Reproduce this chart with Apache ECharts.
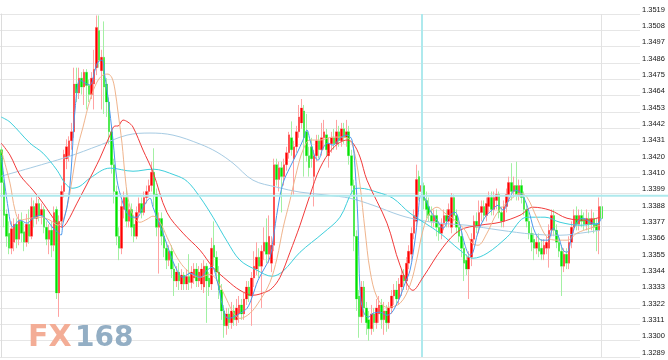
<!DOCTYPE html>
<html>
<head>
<meta charset="utf-8">
<script src="https://cdn.jsdelivr.net/npm/echarts/dist/echarts.min.js"></script>
<style>html,body{margin:0;padding:0;background:#fff;}#c{width:668px;height:360px;}</style>
</head>
<body>
<div id="c"></div>
<script>
// ---- y axis tick labels ----
const yLabels = ['1.3289','1.3300','1.3311','1.3322','1.3333','1.3344','1.3355','1.3366','1.3377','1.3388','1.3399','1.3410','1.3420','1.3431','1.3442','1.3453','1.3464','1.3475','1.3486','1.3497','1.3508','1.3519'];
const yMin = 1.32891;
const yStep = yMin / 1214;
const yMax = yMin + 21 * yStep;

// ---- candles: [open, close, low, high] ----
const ohlc = [
[1.3428,1.3406,1.3396,1.3430],[1.3406,1.3384,1.3376,1.3408],[1.3385,1.3370,1.3363,1.3388],[1.3372,1.3362,1.3358,1.3380],
[1.3362,1.3375,1.3358,1.3380],[1.3366,1.3378,1.3360,1.3382],[1.3378,1.3368,1.3362,1.3382],[1.3368,1.3380,1.3364,1.3385],
[1.3380,1.3372,1.3366,1.3386],[1.3373,1.3366,1.3360,1.3379],[1.3366,1.3378,1.3363,1.3385],[1.3378,1.3370,1.3365,1.3388],
[1.3370,1.3390,1.3368,1.3396],[1.3390,1.3382,1.3376,1.3394],[1.3382,1.3392,1.3378,1.3397],[1.3392,1.3384,1.3380,1.3395],
[1.3384,1.3388,1.3378,1.3392],[1.3388,1.3376,1.3372,1.3390],[1.3376,1.3368,1.3364,1.3380],[1.3368,1.3374,1.3358,1.3378],
[1.3374,1.3364,1.3356,1.3380],[1.3364,1.3386,1.3360,1.3390],[1.3388,1.3332,1.3328,1.3390],[1.3332,1.3380,1.3316,1.3384],
[1.3380,1.3400,1.3376,1.3404],[1.3400,1.3425,1.3396,1.3428],[1.3422,1.3430,1.3415,1.3435],[1.3424,1.3434,1.3420,1.3437],
[1.3434,1.3440,1.3428,1.3446],[1.3440,1.3472,1.3436,1.3483],[1.3472,1.3466,1.3460,1.3483],[1.3466,1.3476,1.3462,1.3483],
[1.3476,1.3470,1.3465,1.3480],[1.3470,1.3480,1.3458,1.3482],[1.3480,1.3471,1.3455,1.3482],[1.3471,1.3465,1.3460,1.3475],
[1.3465,1.3476,1.3462,1.3480],[1.3472,1.3482,1.3455,1.3495],[1.3483,1.3510,1.3478,1.3518],[1.3508,1.3488,1.3483,1.3518],
[1.3481,1.3490,1.3455,1.3495],[1.3490,1.3470,1.3452,1.3514],[1.3472,1.3460,1.3450,1.3476],[1.3460,1.3440,1.3432,1.3463],
[1.3440,1.3418,1.3412,1.3444],[1.3418,1.3400,1.3392,1.3422],[1.3400,1.3370,1.3364,1.3404],[1.3370,1.3362,1.3354,1.3376],
[1.3362,1.3390,1.3358,1.3394],[1.3388,1.3396,1.3382,1.3400],[1.3396,1.3380,1.3376,1.3402],[1.3380,1.3388,1.3376,1.3392],
[1.3388,1.3376,1.3370,1.3392],[1.3378,1.3370,1.3366,1.3384],[1.3370,1.3386,1.3368,1.3390],[1.3386,1.3392,1.3382,1.3396],
[1.3392,1.3386,1.3382,1.3396],[1.3386,1.3396,1.3384,1.3400],[1.3396,1.3400,1.3392,1.3404],[1.3400,1.3404,1.3396,1.3408],
[1.3404,1.3413,1.3400,1.3420],[1.3413,1.3398,1.3390,1.3429],[1.3398,1.3376,1.3370,1.3402],[1.3376,1.3382,1.3345,1.3386],
[1.3382,1.3370,1.3364,1.3386],[1.3370,1.3362,1.3356,1.3374],[1.3362,1.3354,1.3348,1.3366],[1.3354,1.3360,1.3350,1.3364],
[1.3360,1.3348,1.3342,1.3364],[1.3348,1.3340,1.3330,1.3352],[1.3340,1.3346,1.3336,1.3350],[1.3346,1.3340,1.3334,1.3352],
[1.3338,1.3344,1.3334,1.3348],[1.3344,1.3338,1.3334,1.3346],[1.3338,1.3343,1.3334,1.3348],[1.3343,1.3339,1.3334,1.3358],
[1.3339,1.3346,1.3335,1.3350],[1.3342,1.3348,1.3338,1.3352],[1.3348,1.3340,1.3336,1.3352],[1.3340,1.3346,1.3336,1.3350],
[1.3338,1.3348,1.3334,1.3352],[1.3336,1.3350,1.3332,1.3354],[1.3350,1.3340,1.3312,1.3352],[1.3342,1.3336,1.3330,1.3346],
[1.3338,1.3362,1.3334,1.3369],[1.3364,1.3356,1.3350,1.3380],[1.3356,1.3346,1.3340,1.3360],[1.3346,1.3334,1.3328,1.3350],
[1.3334,1.3320,1.3314,1.3338],[1.3320,1.3310,1.3302,1.3324],[1.3310,1.3318,1.3304,1.3322],[1.3318,1.3312,1.3308,1.3322],
[1.3312,1.3320,1.3308,1.3326],[1.3320,1.3314,1.3310,1.3324],[1.3314,1.3322,1.3310,1.3328],[1.3318,1.3324,1.3312,1.3330],
[1.3324,1.3318,1.3314,1.3328],[1.3318,1.3328,1.3314,1.3332],[1.3328,1.3336,1.3324,1.3340],[1.3336,1.3330,1.3326,1.3340],
[1.3330,1.3342,1.3310,1.3346],[1.3342,1.3350,1.3336,1.3360],[1.3348,1.3356,1.3344,1.3366],[1.3356,1.3350,1.3342,1.3362],
[1.3350,1.3360,1.3322,1.3364],[1.3360,1.3366,1.3354,1.3376],[1.3366,1.3358,1.3352,1.3382],[1.3358,1.3370,1.3352,1.3384],
[1.3352,1.3364,1.3346,1.3370],[1.3364,1.3418,1.3360,1.3422],[1.3418,1.3408,1.3404,1.3422],[1.3408,1.3416,1.3400,1.3420],
[1.3416,1.3410,1.3386,1.3420],[1.3410,1.3418,1.3404,1.3422],[1.3418,1.3426,1.3414,1.3430],[1.3426,1.3438,1.3422,1.3440],
[1.3436,1.3428,1.3424,1.3447],[1.3422,1.3430,1.3398,1.3434],[1.3430,1.3440,1.3426,1.3444],[1.3440,1.3450,1.3436,1.3458],
[1.3446,1.3456,1.3442,1.3462],[1.3454,1.3436,1.3410,1.3458],[1.3440,1.3424,1.3420,1.3452],[1.3424,1.3416,1.3410,1.3430],
[1.3430,1.3422,1.3416,1.3436],[1.3410,1.3424,1.3390,1.3428],[1.3424,1.3434,1.3420,1.3438],[1.3434,1.3428,1.3422,1.3438],
[1.3428,1.3436,1.3424,1.3446],[1.3436,1.3440,1.3428,1.3448],[1.3438,1.3428,1.3424,1.3442],[1.3424,1.3432,1.3416,1.3436],
[1.3432,1.3436,1.3426,1.3440],[1.3436,1.3432,1.3428,1.3442],[1.3432,1.3440,1.3428,1.3448],[1.3440,1.3434,1.3430,1.3444],
[1.3434,1.3442,1.3430,1.3446],[1.3442,1.3436,1.3432,1.3446],[1.3436,1.3440,1.3430,1.3448],[1.3440,1.3424,1.3418,1.3444],
[1.3424,1.3404,1.3398,1.3428],[1.3404,1.3370,1.3360,1.3408],[1.3370,1.3328,1.3320,1.3374],[1.3330,1.3316,1.3302,1.3334],
[1.3316,1.3336,1.3312,1.3340],[1.3336,1.3322,1.3316,1.3340],[1.3322,1.3312,1.3304,1.3326],[1.3314,1.3308,1.3300,1.3320],
[1.3308,1.3318,1.3304,1.3324],[1.3318,1.3312,1.3306,1.3322],[1.3312,1.3322,1.3308,1.3328],[1.3318,1.3324,1.3312,1.3330],
[1.3324,1.3314,1.3308,1.3328],[1.3314,1.3320,1.3304,1.3326],[1.3320,1.3312,1.3306,1.3324],[1.3312,1.3322,1.3308,1.3326],
[1.3322,1.3330,1.3318,1.3334],[1.3330,1.3334,1.3324,1.3338],[1.3334,1.3328,1.3324,1.3340],[1.3328,1.3338,1.3324,1.3342],
[1.3336,1.3344,1.3330,1.3348],[1.3344,1.3340,1.3334,1.3348],[1.3340,1.3352,1.3334,1.3356],[1.3352,1.3360,1.3348,1.3364],
[1.3358,1.3372,1.3354,1.3376],[1.3372,1.3384,1.3368,1.3388],[1.3380,1.3408,1.3376,1.3418],[1.3410,1.3400,1.3394,1.3414],
[1.3400,1.3404,1.3396,1.3408],[1.3404,1.3394,1.3388,1.3406],[1.3394,1.3388,1.3382,1.3400],[1.3390,1.3384,1.3380,1.3396],
[1.3384,1.3380,1.3376,1.3390],[1.3380,1.3384,1.3376,1.3388],[1.3384,1.3376,1.3370,1.3388],[1.3376,1.3372,1.3367,1.3380],
[1.3372,1.3378,1.3368,1.3382],[1.3378,1.3384,1.3374,1.3388],[1.3384,1.3380,1.3376,1.3388],[1.3380,1.3388,1.3376,1.3392],
[1.3376,1.3396,1.3372,1.3399],[1.3396,1.3384,1.3380,1.3398],[1.3384,1.3376,1.3372,1.3388],[1.3376,1.3370,1.3366,1.3380],
[1.3370,1.3362,1.3356,1.3374],[1.3362,1.3352,1.3340,1.3366],[1.3354,1.3348,1.3344,1.3358],[1.3348,1.3356,1.3328,1.3360],
[1.3356,1.3368,1.3350,1.3372],[1.3368,1.3380,1.3364,1.3384],[1.3380,1.3376,1.3372,1.3386],[1.3376,1.3386,1.3372,1.3394],
[1.3386,1.3390,1.3380,1.3394],[1.3390,1.3384,1.3380,1.3394],[1.3384,1.3392,1.3380,1.3396],[1.3390,1.3396,1.3386,1.3400],
[1.3396,1.3388,1.3384,1.3400],[1.3388,1.3396,1.3384,1.3400],[1.3394,1.3398,1.3388,1.3402],[1.3398,1.3386,1.3382,1.3400],
[1.3386,1.3380,1.3376,1.3390],[1.3380,1.3390,1.3376,1.3394],[1.3390,1.3398,1.3386,1.3402],[1.3398,1.3406,1.3394,1.3410],
[1.3406,1.3400,1.3394,1.3419],[1.3400,1.3404,1.3396,1.3410],[1.3404,1.3398,1.3394,1.3420],[1.3398,1.3404,1.3394,1.3408],
[1.3404,1.3396,1.3392,1.3408],[1.3396,1.3388,1.3384,1.3400],[1.3388,1.3380,1.3376,1.3392],[1.3380,1.3372,1.3368,1.3386],
[1.3372,1.3366,1.3360,1.3376],[1.3368,1.3362,1.3354,1.3372],[1.3362,1.3366,1.3358,1.3370],[1.3366,1.3360,1.3356,1.3372],
[1.3362,1.3358,1.3354,1.3368],[1.3358,1.3364,1.3354,1.3368],[1.3362,1.3366,1.3358,1.3370],[1.3362,1.3374,1.3349,1.3378],
[1.3374,1.3384,1.3370,1.3388],[1.3384,1.3374,1.3370,1.3388],[1.3374,1.3366,1.3362,1.3378],[1.3366,1.3360,1.3356,1.3370],
[1.3360,1.3350,1.3330,1.3364],[1.3350,1.3358,1.3346,1.3362],[1.3358,1.3352,1.3348,1.3362],[1.3352,1.3366,1.3348,1.3370],
[1.3366,1.3376,1.3362,1.3380],[1.3376,1.3384,1.3372,1.3388],[1.3384,1.3378,1.3374,1.3390],[1.3378,1.3384,1.3374,1.3388],
[1.3384,1.3380,1.3376,1.3388],[1.3382,1.3378,1.3374,1.3386],[1.3378,1.3382,1.3374,1.3388],[1.3382,1.3378,1.3372,1.3386],
[1.3378,1.3382,1.3374,1.3388],[1.3382,1.3376,1.3372,1.3386],[1.3378,1.3374,1.3360,1.3382],[1.3374,1.3390,1.3358,1.3396],
[1.3390,1.3382,1.3378,1.3397]
];

// ---- moving average lines: [candle index, price] ----
const ma5 = [[0,1.34244],[2.7,1.33895],[4.7,1.33761],[7.5,1.33808],[10.3,1.33788],[12.7,1.33821],[15.5,1.33841],[18.3,1.33808],[20.7,1.33754],[22.7,1.33727],[23.9,1.33707],[24.7,1.33788],[26.3,1.33895],[27.5,1.34043],[28.3,1.34231],[29.5,1.34546],[31.5,1.34747],[33.5,1.34727],[35.5,1.34714],[37.5,1.34814],[38.7,1.34868],[40.3,1.34881],[41.5,1.34767],[42.7,1.34633],[44.7,1.34345],[46.3,1.34076],[48.3,1.33942],[50.3,1.33855],[52.3,1.33828],[54.3,1.33828],[56.7,1.33895],[59.5,1.33955],[60.7,1.33895],[62.7,1.33808],[64.7,1.33721],[67.5,1.33586],[70.3,1.33472],[72.7,1.33425],[75.5,1.33452],[79.5,1.33425],[82.3,1.33472],[84.3,1.33492],[86.3,1.33405],[88.7,1.33224],[90.7,1.3315],[92.7,1.33157],[95.5,1.33184],[98.3,1.33217],[100.3,1.33291],[102.7,1.33405],[105.5,1.33492],[107.5,1.33559],[108.7,1.33674],[110.7,1.33895],[112.7,1.34056],[115.5,1.34163],[118.3,1.34257],[120.7,1.34345],[122.3,1.34412],[123.5,1.34345],[125.5,1.34231],[126.7,1.3421],[128.7,1.34291],[130.7,1.34324],[132.7,1.34311],[135.5,1.34358],[138.3,1.34378],[140.3,1.34345],[141.5,1.34163],[142.7,1.33788],[143.5,1.33338],[144.7,1.33204],[146.7,1.33157],[148.7,1.33184],[151.5,1.33191],[154.3,1.33171],[156.3,1.33191],[158.3,1.33251],[159.5,1.33291],[161.5,1.33385],[163.5,1.33472],[165.5,1.33674],[166.7,1.33841],[167.9,1.33976],[169.5,1.33955],[171.5,1.33875],[174.3,1.33808],[176.7,1.33754],[179.5,1.33841],[181.5,1.33861],[183.5,1.33774],[185.5,1.3364],[187.5,1.33573],[188.7,1.33593],[190.7,1.33727],[193.5,1.33828],[196.3,1.33875],[198.7,1.33908],[200.7,1.33875],[203.5,1.33962],[205.5,1.34009],[207.5,1.33996],[209.5,1.33942],[211.5,1.33841],[213.5,1.33727],[216.3,1.33674],[218.7,1.33674],[220.7,1.33754],[222.7,1.33707],[224.7,1.33607],[226.3,1.33593],[228.3,1.33707],[230.3,1.33794],[232.7,1.33821],[235.5,1.33794],[238.3,1.33781],[240,1.33821]];
const ma10 = [[0,1.34278],[3.5,1.34056],[5.5,1.33875],[7.5,1.33808],[11.5,1.33821],[15.5,1.33828],[19.5,1.33808],[22.7,1.33774],[24.3,1.33794],[26.3,1.33895],[28.3,1.34076],[30.3,1.34278],[32.7,1.34432],[35.5,1.34613],[38.3,1.34734],[40.7,1.34781],[42.7,1.34787],[44.3,1.34761],[45.5,1.3468],[46.7,1.34532],[48.3,1.34324],[49.5,1.3411],[50.7,1.33955],[52.7,1.33841],[55.5,1.33794],[58.3,1.33814],[60.7,1.33835],[63.5,1.33794],[66.3,1.33694],[70.3,1.33559],[74.3,1.33472],[79.5,1.33425],[83.5,1.33445],[86.3,1.33405],[90.3,1.33271],[92.7,1.33191],[95.5,1.3315],[99.5,1.33184],[103.5,1.33271],[107.5,1.33392],[110.3,1.33553],[112.7,1.33754],[115.5,1.33942],[118.3,1.34143],[120.7,1.34278],[123.5,1.34345],[127.5,1.34345],[132.7,1.34365],[136.7,1.34365],[139.5,1.34345],[141.5,1.34244],[143.5,1.34043],[145.5,1.33741],[147.5,1.33472],[150.3,1.33291],[154.3,1.33224],[159.5,1.33251],[163.5,1.33372],[166.3,1.33553],[168.7,1.33741],[171.5,1.33861],[174.3,1.33895],[177.5,1.33855],[181.5,1.33808],[185.5,1.33741],[188.3,1.33654],[190.7,1.3364],[194.3,1.33721],[198.3,1.33855],[203.5,1.33942],[207.5,1.33989],[210.3,1.33962],[214.3,1.33821],[218.3,1.33694],[222.3,1.33674],[226.3,1.33674],[230.3,1.33721],[235.5,1.33754],[239.5,1.33774]];
const ma30 = [[0,1.34324],[3.5,1.34244],[7.5,1.3411],[12.7,1.34009],[16.7,1.33922],[22.3,1.33788],[24.3,1.33761],[26.3,1.33794],[30.3,1.33922],[34.3,1.3405],[39.5,1.34224],[43.5,1.34378],[45.5,1.34439],[46.7,1.34439],[48.7,1.34479],[50.7,1.34465],[52.7,1.34432],[56.7,1.34278],[60.7,1.3413],[66.3,1.33859],[72.7,1.33721],[79.5,1.33607],[84.7,1.33492],[90.3,1.33405],[95.5,1.33338],[100.7,1.33305],[105.5,1.33325],[108.3,1.33352],[111.5,1.33425],[115.5,1.33593],[119.5,1.33774],[123.5,1.33976],[127.5,1.34157],[132.7,1.34291],[138.3,1.34345],[140.7,1.34324],[143.5,1.34231],[146.3,1.34076],[154.3,1.33788],[159.5,1.33506],[164.7,1.33338],[168.7,1.33425],[176.7,1.33627],[183.5,1.33741],[191.5,1.33774],[199.5,1.33794],[207.5,1.33841],[212.7,1.33895],[219.5,1.33875],[226.3,1.33821],[234.3,1.33808],[239.5,1.33828]];
const ma60 = [[0,1.34499],[3.5,1.34465],[11.5,1.34324],[16.7,1.34257],[22.3,1.34143],[25.5,1.34056],[28.3,1.34022],[31.5,1.34036],[35.5,1.3409],[43.5,1.34157],[52.7,1.34136],[60.7,1.3415],[69.5,1.3411],[74.3,1.34069],[79.5,1.33962],[84.7,1.33828],[90.3,1.33667],[95.5,1.3354],[102.3,1.33472],[108.3,1.33432],[112.7,1.33466],[119.5,1.33593],[128.7,1.33721],[135.5,1.33828],[140.7,1.34009],[143.5,1.34022],[150.3,1.33996],[156.7,1.33955],[163.5,1.33855],[175.5,1.33721],[183.5,1.33607],[188.7,1.33553],[194.3,1.33586],[202.3,1.33694],[210.3,1.33828],[217.5,1.33828],[223.5,1.33794],[231.5,1.33774],[239.5,1.33788]];
const ma120 = [[0,1.34103],[26.3,1.34231],[39.5,1.34311],[50.3,1.34378],[59.5,1.34392],[68.7,1.34378],[79.5,1.34318],[86.3,1.34264],[92.7,1.3419],[100.7,1.34076],[110.3,1.34029],[119.5,1.33996],[130.3,1.33976],[139.5,1.33955],[148.7,1.33908],[159.5,1.33841],[167.5,1.33808],[175.5,1.33788],[186.3,1.33774],[199.5,1.33741],[212.7,1.33714],[223.5,1.33707],[234.3,1.33727],[239.5,1.33741]];

// crosshair position (price and candle index)
const crossPrice = 1.33971;
const crossIndex = 168;

// category slots (data fills the first ones, the rest is empty room on the right)
const slotCount = 256;
const categories = Array.from({length: slotCount}, (_, i) => String(i));

const chart = echarts.init(document.getElementById('c'), null, {renderer: 'canvas'});
function maSeries(data, color) {
  return {
    type: 'line', xAxisIndex: 1, data: data, showSymbol: false, smooth: 0.35,
    lineStyle: {color: color, width: 1}, itemStyle: {color: color}, z: 6, silent: true
  };
}
const crossColor = '#aee9ed';
chart.setOption({
  animation: false,
  backgroundColor: '#ffffff',
  grid: {left: 0, right: 28, top: 14, bottom: 3, containLabel: false},
  xAxis: [
    {type: 'category', data: categories, show: false, boundaryGap: true},
    {type: 'value', min: -0.5, max: slotCount - 0.5, show: false, splitLine: {show: false}}
  ],
  yAxis: {
    type: 'value', position: 'right', min: yMin, max: yMax, interval: yStep,
    axisLine: {show: true, lineStyle: {color: '#dcdcdc', width: 1}},
    axisTick: {show: false},
    splitLine: {show: true, lineStyle: {color: '#e6e6e6', width: 1}},
    axisLabel: {
      show: true, margin: 2, color: '#151515', fontSize: 7.5,
      fontFamily: '"Liberation Sans", Arial, sans-serif', verticalAlign: 'bottom', lineHeight: 9,
      formatter: function (v) {
        const k = Math.round((v - yMin) / yStep);
        return yLabels[k] !== undefined ? yLabels[k] : '';
      }
    }
  },
  graphic: [
    {type: 'text', left: 28, top: 323, z: 1, silent: true,
     style: {text: 'FX', font: 'bold 30px "DejaVu Sans"', fill: '#f3ad96'}},
    {type: 'text', left: 75, top: 325, z: 1, silent: true,
     style: {text: '168', font: 'bold 28px "DejaVu Sans"', fill: '#93aec4'}}
  ],
  series: [
    {
      type: 'candlestick', data: ohlc, barWidth: 2, z: 2, silent: true,
      itemStyle: {color: '#ffa3a3', color0: '#a3f0a3', borderColor: '#ffa3a3', borderColor0: '#a3f0a3', borderWidth: 1},
      markLine: {
        silent: true, symbol: ['none', 'none'], label: {show: false}, animation: false,
        data: [
          {xAxis: categories[crossIndex], lineStyle: {color: crossColor, width: 2, type: 'solid'}},
          {xAxis: categories[ohlc.length - 1], lineStyle: {color: '#e2e2e2', width: 1, type: 'solid'}}
        ]
      }
    },
    {
      type: 'candlestick', data: ohlc, barWidth: 2, z: 3, silent: true,
      itemStyle: {color: '#ff0000', color0: '#00e400', borderColor: 'rgba(0,0,0,0)', borderColor0: 'rgba(0,0,0,0)', borderWidth: 0}
    },
    maSeries(ma120, '#a6cbe3'),
    maSeries(ma60, '#3ecfdc'),
    maSeries(ma30, '#f23a3a'),
    maSeries(ma10, '#f0b48c'),
    maSeries(ma5, '#4a98ee')
  ]
});
// horizontal crosshair spans the full width (into the price label column), placed via the y scale
const crossY = chart.convertToPixel({yAxisIndex: 0}, crossPrice);
chart.setOption({
  graphic: [
    {type: 'text', left: 28, top: 323, z: 1, silent: true,
     style: {text: 'FX', font: 'bold 30px "DejaVu Sans"', fill: '#f3ad96'}},
    {type: 'text', left: 75, top: 325, z: 1, silent: true,
     style: {text: '168', font: 'bold 28px "DejaVu Sans"', fill: '#93aec4'}},
    {type: 'line', z: 10, silent: true,
     shape: {x1: 0, y1: crossY, x2: chart.getWidth(), y2: crossY},
     style: {stroke: crossColor, lineWidth: 2}}
  ]
});
</script>
</body>
</html>
